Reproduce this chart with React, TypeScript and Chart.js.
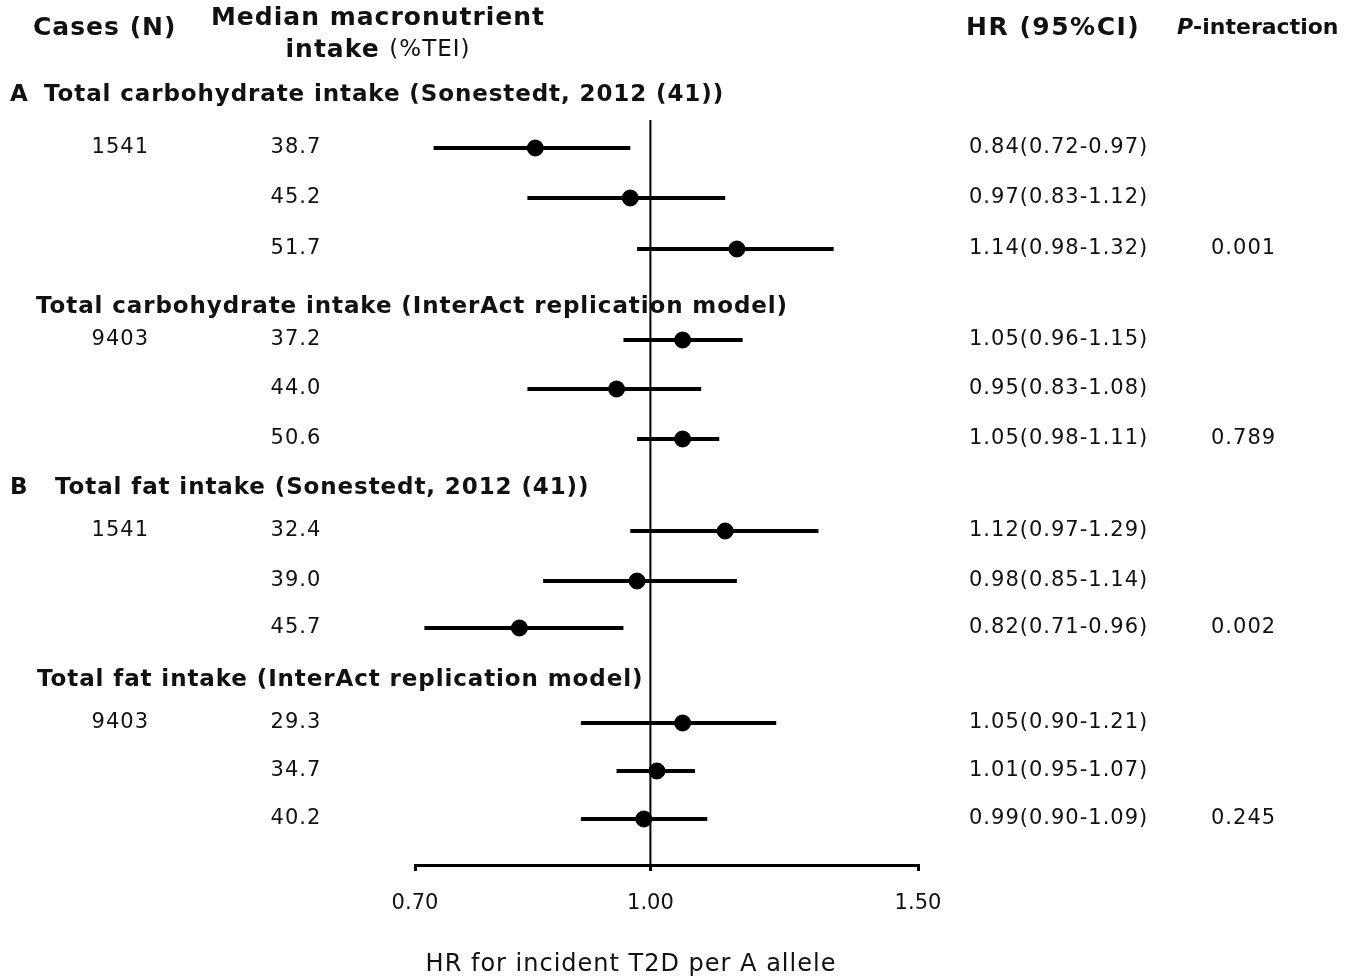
import React, { useRef, useEffect } from "react";
import { Chart, registerables } from "chart.js";

Chart.register(...registerables);

// data
const cases = ["1541", "", "", "9403", "", "", "1541", "", "", "9403", "", ""];
const medians = ["38.7", "45.2", "51.7", "37.2", "44.0", "50.6", "32.4", "39.0", "45.7", "29.3", "34.7", "40.2"];
const hr = [0.84, 0.97, 1.14, 1.05, 0.95, 1.05, 1.12, 0.98, 0.82, 1.05, 1.01, 0.99];
const lo = [0.72, 0.83, 0.98, 0.96, 0.83, 0.98, 0.97, 0.85, 0.71, 0.9, 0.95, 0.9];
const hi = [0.97, 1.12, 1.32, 1.15, 1.08, 1.11, 1.29, 1.14, 0.96, 1.21, 1.07, 1.09];
const hrText = [
  "0.84(0.72-0.97)", "0.97(0.83-1.12)", "1.14(0.98-1.32)",
  "1.05(0.96-1.15)", "0.95(0.83-1.08)", "1.05(0.98-1.11)",
  "1.12(0.97-1.29)", "0.98(0.85-1.14)", "0.82(0.71-0.96)",
  "1.05(0.90-1.21)", "1.01(0.95-1.07)", "0.99(0.90-1.09)",
];
const pInter = ["", "", "0.001", "", "", "0.789", "", "", "0.002", "", "", "0.245"];
const tickValues = [0.7, 1.0, 1.5];

// layout (pixel rows)
const rowY = [148, 198, 249, 340, 389, 439, 531, 581, 628, 723, 771, 819];
const sections = [
  { letter: "A", title: "Total carbohydrate intake (Sonestedt, 2012 (41))", x: 44, y: 95 },
  { letter: "", title: "Total carbohydrate intake (InterAct replication model)", x: 36, y: 307 },
  { letter: "B", title: "Total fat intake (Sonestedt, 2012 (41))", x: 55, y: 488 },
  { letter: "", title: "Total fat intake (InterAct replication model)", x: 37, y: 680 },
];

const F = "'DejaVu Sans', Verdana, sans-serif";

const forestPlugin = {
  id: "forest",
  afterDatasetsDraw(chart: any) {
    const ctx = chart.ctx;
    const xs = chart.scales.x;
    const ys = chart.scales.y;
    ctx.save();
    ctx.strokeStyle = "#000";
    ctx.lineWidth = 2;
    ctx.beginPath();
    ctx.moveTo(xs.getPixelForValue(1), 120);
    ctx.lineTo(xs.getPixelForValue(1), ys.bottom);
    ctx.stroke();
    ctx.lineWidth = 4;
    hr.forEach((_, i) => {
      const y = ys.getPixelForValue(rowY[i]);
      ctx.beginPath();
      ctx.moveTo(xs.getPixelForValue(lo[i]), y);
      ctx.lineTo(xs.getPixelForValue(hi[i]), y);
      ctx.stroke();
    });
    ctx.restore();
  },
  afterDraw(chart: any) {
    const ctx = chart.ctx;
    const ys = chart.scales.y;
    ctx.save();
    ctx.fillStyle = "#111";
    ctx.textBaseline = "middle";
    // headers
    ctx.letterSpacing = "1px";
    ctx.font = `bold 25px ${F}`;
    ctx.textAlign = "left";
    ctx.fillText("Cases (N)", 33, 28);
    ctx.letterSpacing = "1.5px";
    ctx.fillText("HR (95%CI)", 966, 28);
    ctx.letterSpacing = "1px";
    ctx.textAlign = "center";
    ctx.fillText("Median macronutrient", 378, 18);
    ctx.textAlign = "left";
    const w1 = ctx.measureText("intake ").width;
    ctx.font = `23px ${F}`;
    const w2 = ctx.measureText("(%TEI)").width;
    const sx = 378 - (w1 + w2) / 2;
    ctx.font = `bold 25px ${F}`;
    ctx.fillText("intake ", sx, 50);
    ctx.font = `23px ${F}`;
    ctx.fillText("(%TEI)", sx + w1, 50);
    ctx.letterSpacing = "0px";
    ctx.font = `italic bold 22px ${F}`;
    ctx.fillText("P", 1177, 28);
    const wp = ctx.measureText("P").width;
    ctx.font = `bold 22px ${F}`;
    ctx.fillText("-interaction", 1177 + wp, 28);
    // sections
    ctx.letterSpacing = "0.9px";
    sections.forEach((s) => {
      ctx.font = `bold 23px ${F}`;
      if (s.letter) ctx.fillText(s.letter, 10, s.y);
      ctx.fillText(s.title, s.x, s.y);
    });
    // rows
    ctx.letterSpacing = "1px";
    ctx.font = `21px ${F}`;
    rowY.forEach((ry, i) => {
      const y = ys.getPixelForValue(ry);
      ctx.textAlign = "right";
      if (cases[i]) ctx.fillText(cases[i], 149, y);
      ctx.textAlign = "center";
      ctx.fillText(medians[i], 296, y);
      ctx.textAlign = "left";
      ctx.fillText(hrText[i], 969, y);
      if (pInter[i]) ctx.fillText(pInter[i], 1211, y);
    });
    ctx.font = `24px ${F}`;
    ctx.textAlign = "center";
    ctx.fillText("HR for incident T2D per A allele", 631, 965);
    ctx.restore();
  },
};

const App = () => {
  const canvasRef = useRef<HTMLCanvasElement>(null);
  const chartRef = useRef<Chart | null>(null);

  useEffect(() => {
    document.body.style.margin = "0";
    const canvas = canvasRef.current;
    if (!canvas) return;
    if (chartRef.current) chartRef.current.destroy();

    chartRef.current = new Chart(canvas, {
      type: "scatter",
      data: {
        datasets: [
          {
            data: hr.map((v, i) => ({ x: v, y: rowY[i] })),
            backgroundColor: "#000",
            borderColor: "#000",
            pointRadius: 8,
            pointHoverRadius: 8,
          },
        ],
      },
      options: {
        responsive: false,
        animation: false,
        layout: { autoPadding: false, padding: { left: 415, right: 439, top: 0, bottom: 0 } },
        plugins: { legend: { display: false }, tooltip: { enabled: false } },
        scales: {
          x: {
            type: "logarithmic",
            min: 0.7,
            max: 1.5,
            afterBuildTicks: (s: any) => {
              s.ticks = tickValues.map((v) => ({ value: v }));
            },
            ticks: {
              color: "#111",
              font: { family: F, size: 21 },
              padding: 20,
              callback: (v: any) => Number(v).toFixed(2),
              autoSkip: false,
              maxRotation: 0,
            },
            grid: { drawOnChartArea: false, tickLength: 6, color: "#000", lineWidth: 3 },
            border: { color: "#000", width: 3 },
            afterFit: (s: any) => {
              s.height = 115;
            },
          },
          y: {
            display: false,
            min: 0,
            max: 865,
            reverse: true,
          },
        },
      },
      plugins: [forestPlugin],
    });

    return () => {
      chartRef.current?.destroy();
    };
  }, []);

  return <canvas ref={canvasRef} width={1357} height={980} style={{ width: 1357, height: 980, display: "block" }} />;
};

export default App;
